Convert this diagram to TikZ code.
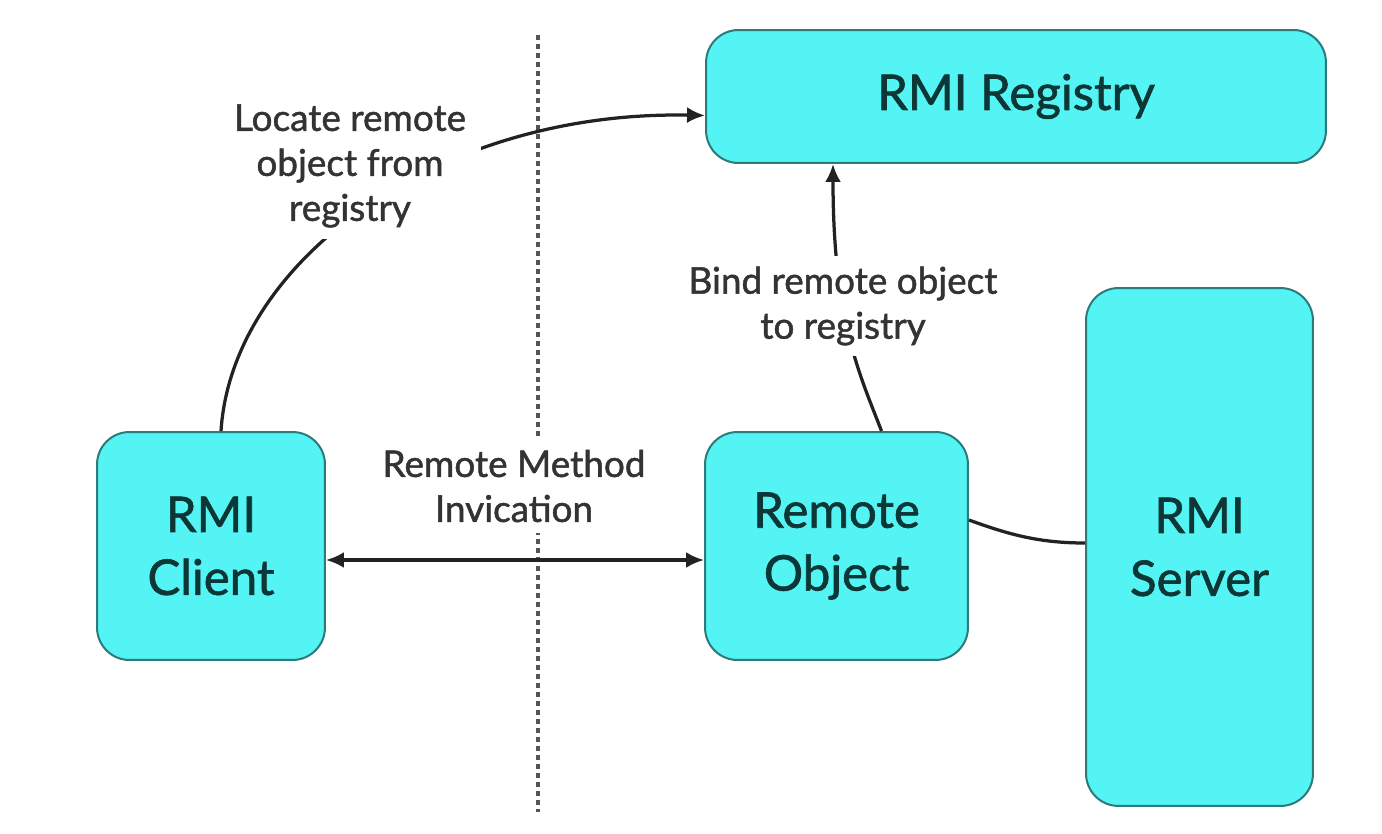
\documentclass[tikz,border=0pt]{standalone}
\usepackage{fontspec}
\setmainfont{Lato}[BoldFont=Lato, BoldFeatures={FakeBold=1.3}]
\usetikzlibrary{calc,arrows.meta}
\definecolor{boxfill}{HTML}{55F4F4}
\definecolor{boxline}{HTML}{2C7A7A}
\definecolor{boxtext}{HTML}{0D3636}
\definecolor{lbltext}{HTML}{333333}
\definecolor{conncol}{HTML}{222222}
\definecolor{sepcol}{HTML}{555555}
\tikzset{
  box/.style={draw=boxline, line width=0.04cm, fill=boxfill, rounded corners=0.65cm,
    text=boxtext, align=center, inner sep=0pt,
    font=\fontsize{28}{35.8}\selectfont\bfseries},
  lbl/.style={fill=white, text=lbltext, align=center, inner xsep=0.3cm, inner ysep=0.22cm,
    font=\fontsize{21}{25.6}\selectfont\bfseries},
  conn/.style={draw=conncol, line width=0.065cm},
  arr/.style={conn, -{Latex[length=0.36cm,width=0.32cm]}},
  darr/.style={conn, {Latex[length=0.36cm,width=0.32cm]}-{Latex[length=0.36cm,width=0.32cm]}},
  sep/.style={draw=sepcol, line width=0.07cm, dash pattern=on 0.1cm off 0.08cm}
}
\begin{document}
\begin{tikzpicture}[x=0.02cm,y=-0.02cm]
\useasboundingbox[fill=white] (0,0) rectangle (1382,834);
% separator
\coordinate (dtop) at (538,35);
\coordinate (dbot) at (538,812);
\draw[sep] (dtop) -- (dbot);
% boxes
\node[box, minimum width=12.4cm, minimum height=2.66cm] (reg) at (1016,96.5) {RMI Registry};
\node[box, minimum width=4.56cm, minimum height=4.56cm] (client) at (211,546) {RMI\\Client};
\node[box, minimum width=5.26cm, minimum height=4.56cm] (obj) at (836.5,546) {Remote\\Object};
\node[box, minimum width=4.54cm, minimum height=10.36cm] (server) at (1199.5,547) {RMI\\Server};
% connectors
\draw[arr] ($(client.north)+(10,0)$) .. controls (232,260) and (440,110) .. ($(reg.west)+(0,19)$);
\draw[arr] ($(obj.north)+(45,0)$) .. controls (860,375) and (833,320) .. ($(reg.south)+(-183,0)$);
\draw[darr] ($(client.east)+(0,14)$) -- ($(obj.west)+(0,14)$);
\draw[conn] ($(obj.east)+(0,-26)$) .. controls (1010,535) and (1040,543) .. ($(server.west)+(0,-4)$);
% labels
\node[lbl] (locate) at (350,166) {Locate remote\\object from\\registry};
\node[lbl] (rmi) at (514,486) {Remote Method\\Invication};
\node[lbl] (bind) at (843,306) {Bind remote object\\to registry};
\end{tikzpicture}
\end{document}
